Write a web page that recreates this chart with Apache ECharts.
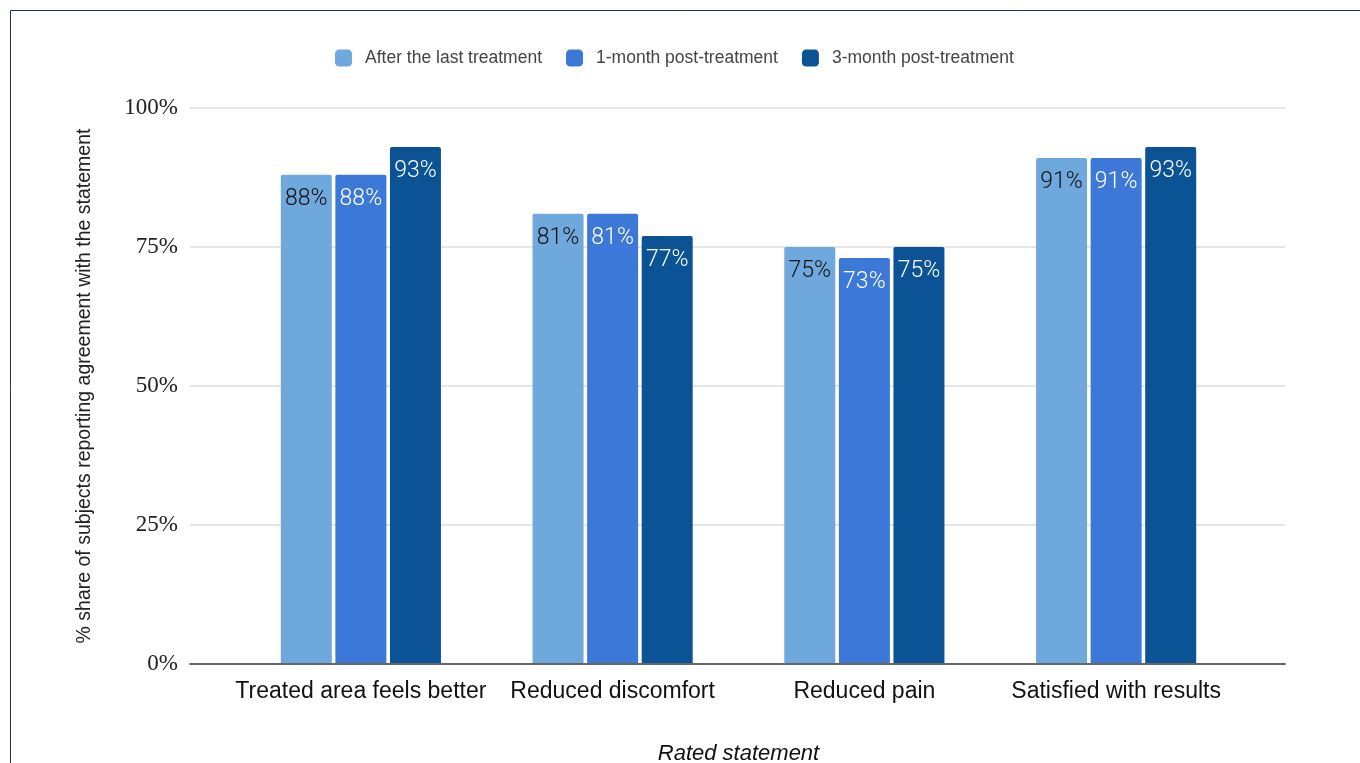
<!DOCTYPE html>
<html>
<head>
<meta charset="utf-8">
<title>Rated statements</title>
<script src="https://cdn.jsdelivr.net/npm/echarts@6/dist/echarts.min.js"></script>
<style>
  html, body { margin: 0; padding: 0; background: #ffffff; }
  #chart { width: 1360px; height: 763px; }
</style>
</head>
<body>
<div id="chart"></div>
<script>
// Rated statements (x categories)
const categories = [
  'Treated area feels better',
  'Reduced discomfort',
  'Reduced pain',
  'Satisfied with results'
];

// Share of subjects agreeing with each statement, in percent
const afterLastTreatment = [88, 81, 75, 91];
const oneMonthPost = [88, 81, 73, 91];
const threeMonthPost = [93, 77, 75, 93];

const seriesNames = ['After the last treatment', '1-month post-treatment', '3-month post-treatment'];
const seriesColors = ['#6fa8dc', '#3c78d8', '#0b5394'];
const labelColors = ['#111111', '#ffffff', '#ffffff'];

// Y ticks
const yMin = 0;
const yMax = 100;
const yStep = 25;

const chart = echarts.init(document.getElementById('chart'), null, { renderer: 'canvas' });

const seriesData = [afterLastTreatment, oneMonthPost, threeMonthPost];

const series = seriesData.map((values, i) => ({
  name: seriesNames[i],
  type: 'bar',
  xAxisIndex: 1,
  yAxisIndex: 1,
  data: values,
  barWidth: 51,
  barGap: '7%',
  z: 2,
  itemStyle: { color: seriesColors[i], borderRadius: [2, 2, 0, 0] },
  label: {
    show: true,
    position: 'insideTop',
    distance: 13,
    formatter: '{c}%',
    color: labelColors[i],
    fontFamily: 'Roboto, "Liberation Sans", Arial, sans-serif',
    fontWeight: 300,
    fontSize: 23
  }
}));

const option = {
  backgroundColor: '#ffffff',
  animation: false,
  graphic: [{
    type: 'rect',
    shape: { x: 10.5, y: 10.5, width: 1400, height: 800 },
    style: { fill: 'none', stroke: '#1f3558', lineWidth: 1 },
    silent: true
  }],
  legend: {
    left: 335,
    top: 49,
    padding: 0,
    icon: 'roundRect',
    itemWidth: 17,
    itemHeight: 17,
    itemGap: 24,
    data: seriesNames,
    textStyle: {
      color: '#444444',
      fontFamily: '"Liberation Sans", Arial, sans-serif',
      fontSize: 17.5,
      padding: [0, 0, 0, 8]
    }
  },
  grid: [
    // wide grid carrying the gridlines, tick labels and baseline
    { left: 190, right: 75, top: 108, bottom: 99, containLabel: false, outerBoundsMode: 'none' },
    // grid holding the bars
    { left: 235, right: 118, top: 108, bottom: 99, containLabel: false, outerBoundsMode: 'none' }
  ],
  xAxis: [
    {
      type: 'value',
      gridIndex: 0,
      min: 0,
      max: 1,
      z: 5,
      axisLine: { show: true, onZero: false, lineStyle: { color: '#666666', width: 2 } },
      axisTick: { show: false },
      axisLabel: { show: false },
      splitLine: { show: false }
    },
    {
      type: 'category',
      gridIndex: 1,
      data: categories,
      axisLine: { show: false },
      axisTick: { show: false },
      axisLabel: {
        color: '#111111',
        fontFamily: '"Liberation Sans", Arial, sans-serif',
        fontSize: 23,
        margin: 16,
        interval: 0
      },
      name: 'Rated statement',
      nameLocation: 'middle',
      nameGap: 79,
      nameTextStyle: {
        color: '#111111',
        fontFamily: '"Liberation Sans", Arial, sans-serif',
        fontSize: 22,
        fontStyle: 'italic'
      }
    }
  ],
  yAxis: [
    {
      type: 'value',
      gridIndex: 0,
      min: yMin,
      max: yMax,
      interval: yStep,
      axisLine: { show: false },
      axisTick: { show: false },
      axisLabel: {
        formatter: '{value}%',
        color: '#222222',
        fontFamily: '"Liberation Serif", "Times New Roman", serif',
        fontSize: 23,
        margin: 12
      },
      splitLine: { show: true, lineStyle: { color: '#dddddd', width: 1.5 } },
      name: '% share of subjects reporting agreement with the statement',
      nameLocation: 'middle',
      nameGap: 95,
      nameTextStyle: {
        color: '#222222',
        fontFamily: '"Liberation Sans", Arial, sans-serif',
        fontSize: 19.5
      }
    },
    {
      type: 'value',
      gridIndex: 1,
      min: yMin,
      max: yMax,
      interval: yStep,
      show: false,
      splitLine: { show: false }
    }
  ],
  series: series
};

chart.setOption(option);
</script>
</body>
</html>
